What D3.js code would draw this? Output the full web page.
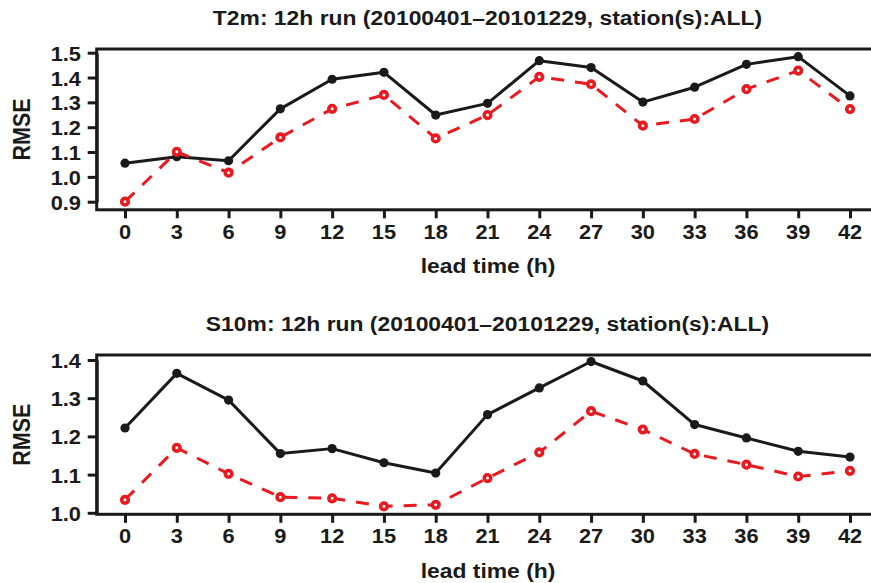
<!DOCTYPE html>
<html><head><meta charset="utf-8">
<script src="https://cdn.jsdelivr.net/npm/d3@7"></script>
<style>html,body{margin:0;padding:0;background:#fff;overflow:hidden}</style>
</head><body>
<svg id="c" width="871" height="583"></svg>
<script>
// ---- data ----
const leadTimes = [0,3,6,9,12,15,18,21,24,27,30,33,36,39,42];
const t2mTitle = "T2m: 12h run (20100401\u201320101229, station(s):ALL)";
const s10mTitle = "S10m: 12h run (20100401\u201320101229, station(s):ALL)";
const t2mBlack = [1.055,1.081,1.065,1.274,1.393,1.421,1.249,1.296,1.468,1.440,1.301,1.361,1.453,1.484,1.326];
const t2mRed   = [0.900,1.101,1.017,1.159,1.274,1.330,1.155,1.249,1.403,1.373,1.206,1.233,1.353,1.428,1.273];
const s10mBlack = [1.222,1.365,1.295,1.155,1.168,1.131,1.104,1.257,1.327,1.396,1.345,1.231,1.196,1.161,1.146];
const s10mRed   = [1.034,1.170,1.102,1.041,1.038,1.017,1.021,1.091,1.158,1.266,1.218,1.154,1.126,1.095,1.110];
const t2mYTicks = [0.9,1.0,1.1,1.2,1.3,1.4,1.5];
const s10mYTicks = [1.0,1.1,1.2,1.3,1.4];
const xLabel = "lead time (h)";
const yLabel = "RMSE";

// ---- drawing ----
const svg = d3.select("#c");
const SX = 1.09;
const FONT = "'Liberation Sans', Arial, Helvetica, sans-serif";
const INK = "#1a1a1a", RED = "#e8191f";

function txt(x, y, s, size, anchor, rot) {
  const t = svg.append("text")
    .attr("transform", rot ? `translate(${x},${y}) rotate(${rot}) scale(1,${SX})` : `translate(${x},${y}) scale(${SX},1)`)
    .attr("font-family", FONT).attr("font-weight", "bold")
    .attr("font-size", size).attr("fill", INK)
    .attr("text-anchor", anchor || "middle").text(s);
  return t;
}

const x = d3.scaleLinear().domain([0,42]).range([125,850]);

function panel(cfg) {
  const y = d3.scaleLinear().domain(cfg.yDom).range(cfg.yRange);
  const L = 96.7, R = 879, T = cfg.top, B = cfg.bottom;
  // frame
  svg.append("rect").attr("x", L).attr("y", T).attr("width", R-L).attr("height", B-T)
    .attr("fill", "none").attr("stroke", INK).attr("stroke-width", 3);
  // x axis
  const xa = svg.append("g").attr("transform", `translate(0,${B})`)
    .call(d3.axisBottom(x).tickValues(leadTimes).tickSize(8.5).tickSizeOuter(0).tickFormat(""));
  xa.select(".domain").remove();
  xa.selectAll("line").attr("stroke", INK).attr("stroke-width", 3);
  leadTimes.forEach(v => txt(x(v), B + 29, String(v), 20, "middle"));
  // y axis
  const ya = svg.append("g").attr("transform", `translate(${L},0)`)
    .call(d3.axisLeft(y).tickValues(cfg.yTicks).tickSize(9).tickSizeOuter(0).tickFormat(""));
  ya.select(".domain").attr("stroke", INK).attr("stroke-width", 3);
  ya.selectAll("line").attr("stroke", INK).attr("stroke-width", 3);
  cfg.yTicks.forEach(v => txt(81, y(v) + 8, v.toFixed(1), 20, "end"));
  // titles
  txt(487.5, cfg.titleY, cfg.title, 21, "middle");
  txt(488, B + 63.5, xLabel, 21, "middle");
  txt(30, (T + B) / 2, yLabel, 21.5, "middle", -90);

  const line = d3.line().x((d,i) => x(leadTimes[i])).y(d => y(d));
  // black series
  svg.append("path").datum(cfg.black).attr("d", line)
    .attr("fill", "none").attr("stroke", INK).attr("stroke-width", 3).attr("stroke-linejoin", "round");
  svg.append("g").selectAll("circle").data(cfg.black).join("circle")
    .attr("cx", (d,i) => x(leadTimes[i])).attr("cy", d => y(d)).attr("r", 4.6).attr("fill", INK);
  // red series
  svg.append("path").datum(cfg.red).attr("d", line)
    .attr("fill", "none").attr("stroke", RED).attr("stroke-width", 3).attr("stroke-dasharray", "13,11");
  svg.append("g").selectAll("circle").data(cfg.red).join("circle")
    .attr("cx", (d,i) => x(leadTimes[i])).attr("cy", d => y(d)).attr("r", 3.3)
    .attr("fill", "#fff").attr("stroke", RED).attr("stroke-width", 3.6);
}

panel({ title: t2mTitle, titleY: 25, top: 49, bottom: 209.8,
        yDom: [0.9, 1.5], yRange: [201.7, 52.7], yTicks: t2mYTicks,
        black: t2mBlack, red: t2mRed });
panel({ title: s10mTitle, titleY: 331, top: 355, bottom: 514.3,
        yDom: [1.0, 1.4], yRange: [512.8, 360], yTicks: s10mYTicks,
        black: s10mBlack, red: s10mRed });
</script>
</body></html>
